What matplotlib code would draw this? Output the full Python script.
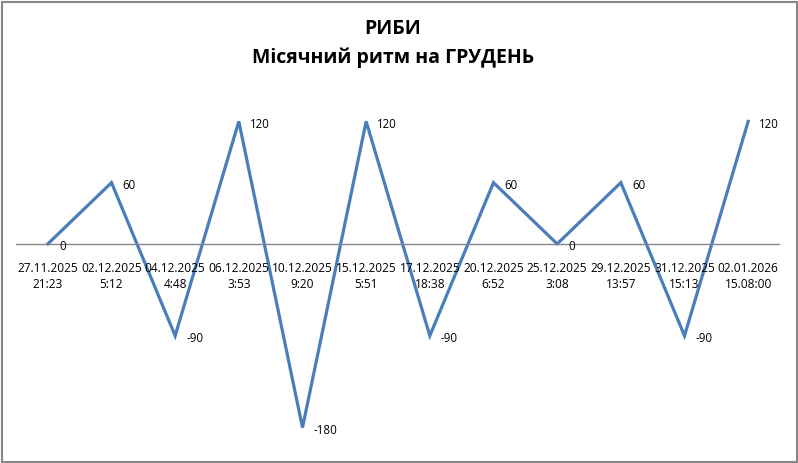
import matplotlib.pyplot as plt
from matplotlib.patches import Rectangle

dates = ["27.11.2025\n21:23", "02.12.2025\n5:12", "04.12.2025\n4:48", "06.12.2025\n3:53",
         "10.12.2025\n9:20", "15.12.2025\n5:51", "17.12.2025\n18:38", "20.12.2025\n6:52",
         "25.12.2025\n3:08", "29.12.2025\n13:57", "31.12.2025\n15:13", "02.01.2026\n15.08:00"]
values = [0, 60, -90, 120, -180, 120, -90, 60, 0, 60, -90, 120]

title = "РИБИ\nМісячний ритм на ГРУДЕНЬ"

plt.rcParams['font.family'] = ['Open Sans', 'DejaVu Sans']

W, H = 798, 463
fig = plt.figure(figsize=(W / 100, H / 100), dpi=100)
fig.patch.set_facecolor('white')

# axes placed in pixel terms
left, right = 16, 780
top, bottom = 101, 448
ax = fig.add_axes([left / W, 1 - bottom / H, (right - left) / W, (bottom - top) / H])

x = list(range(len(values)))
ax.plot(x, values, color="#4a7ebb", linewidth=2.3, solid_joinstyle="miter")
ax.set_xlim(-0.5, len(values) - 0.5)
ax.set_ylim(-200, 140)

ax.axhline(0, color="#868686", linewidth=1)

for i, v in enumerate(values):
    ax.annotate(str(v), (i, v), xytext=(8, -2), textcoords="offset points",
                ha="left", va="center", fontsize=8.3, color="black")

for i, lab in enumerate(dates):
    ax.annotate(lab, (i, 0), xytext=(0, -13), textcoords="offset points",
                ha="center", va="top", fontsize=8.6, linespacing=1.3, color="black")

for s in ax.spines.values():
    s.set_visible(False)
ax.set_xticks([])
ax.set_yticks([])

fig.text(393 / W, 1 - 19 / H, title, ha="center", va="top", fontsize=14,
         fontweight="bold", linespacing=1.55)

fig.add_artist(Rectangle((1.5 / W, 1.5 / H), (795 / W), (460 / H), transform=fig.transFigure,
                         fill=False, edgecolor="#878787", linewidth=1.5))

fig.savefig("out.png", dpi=100)
